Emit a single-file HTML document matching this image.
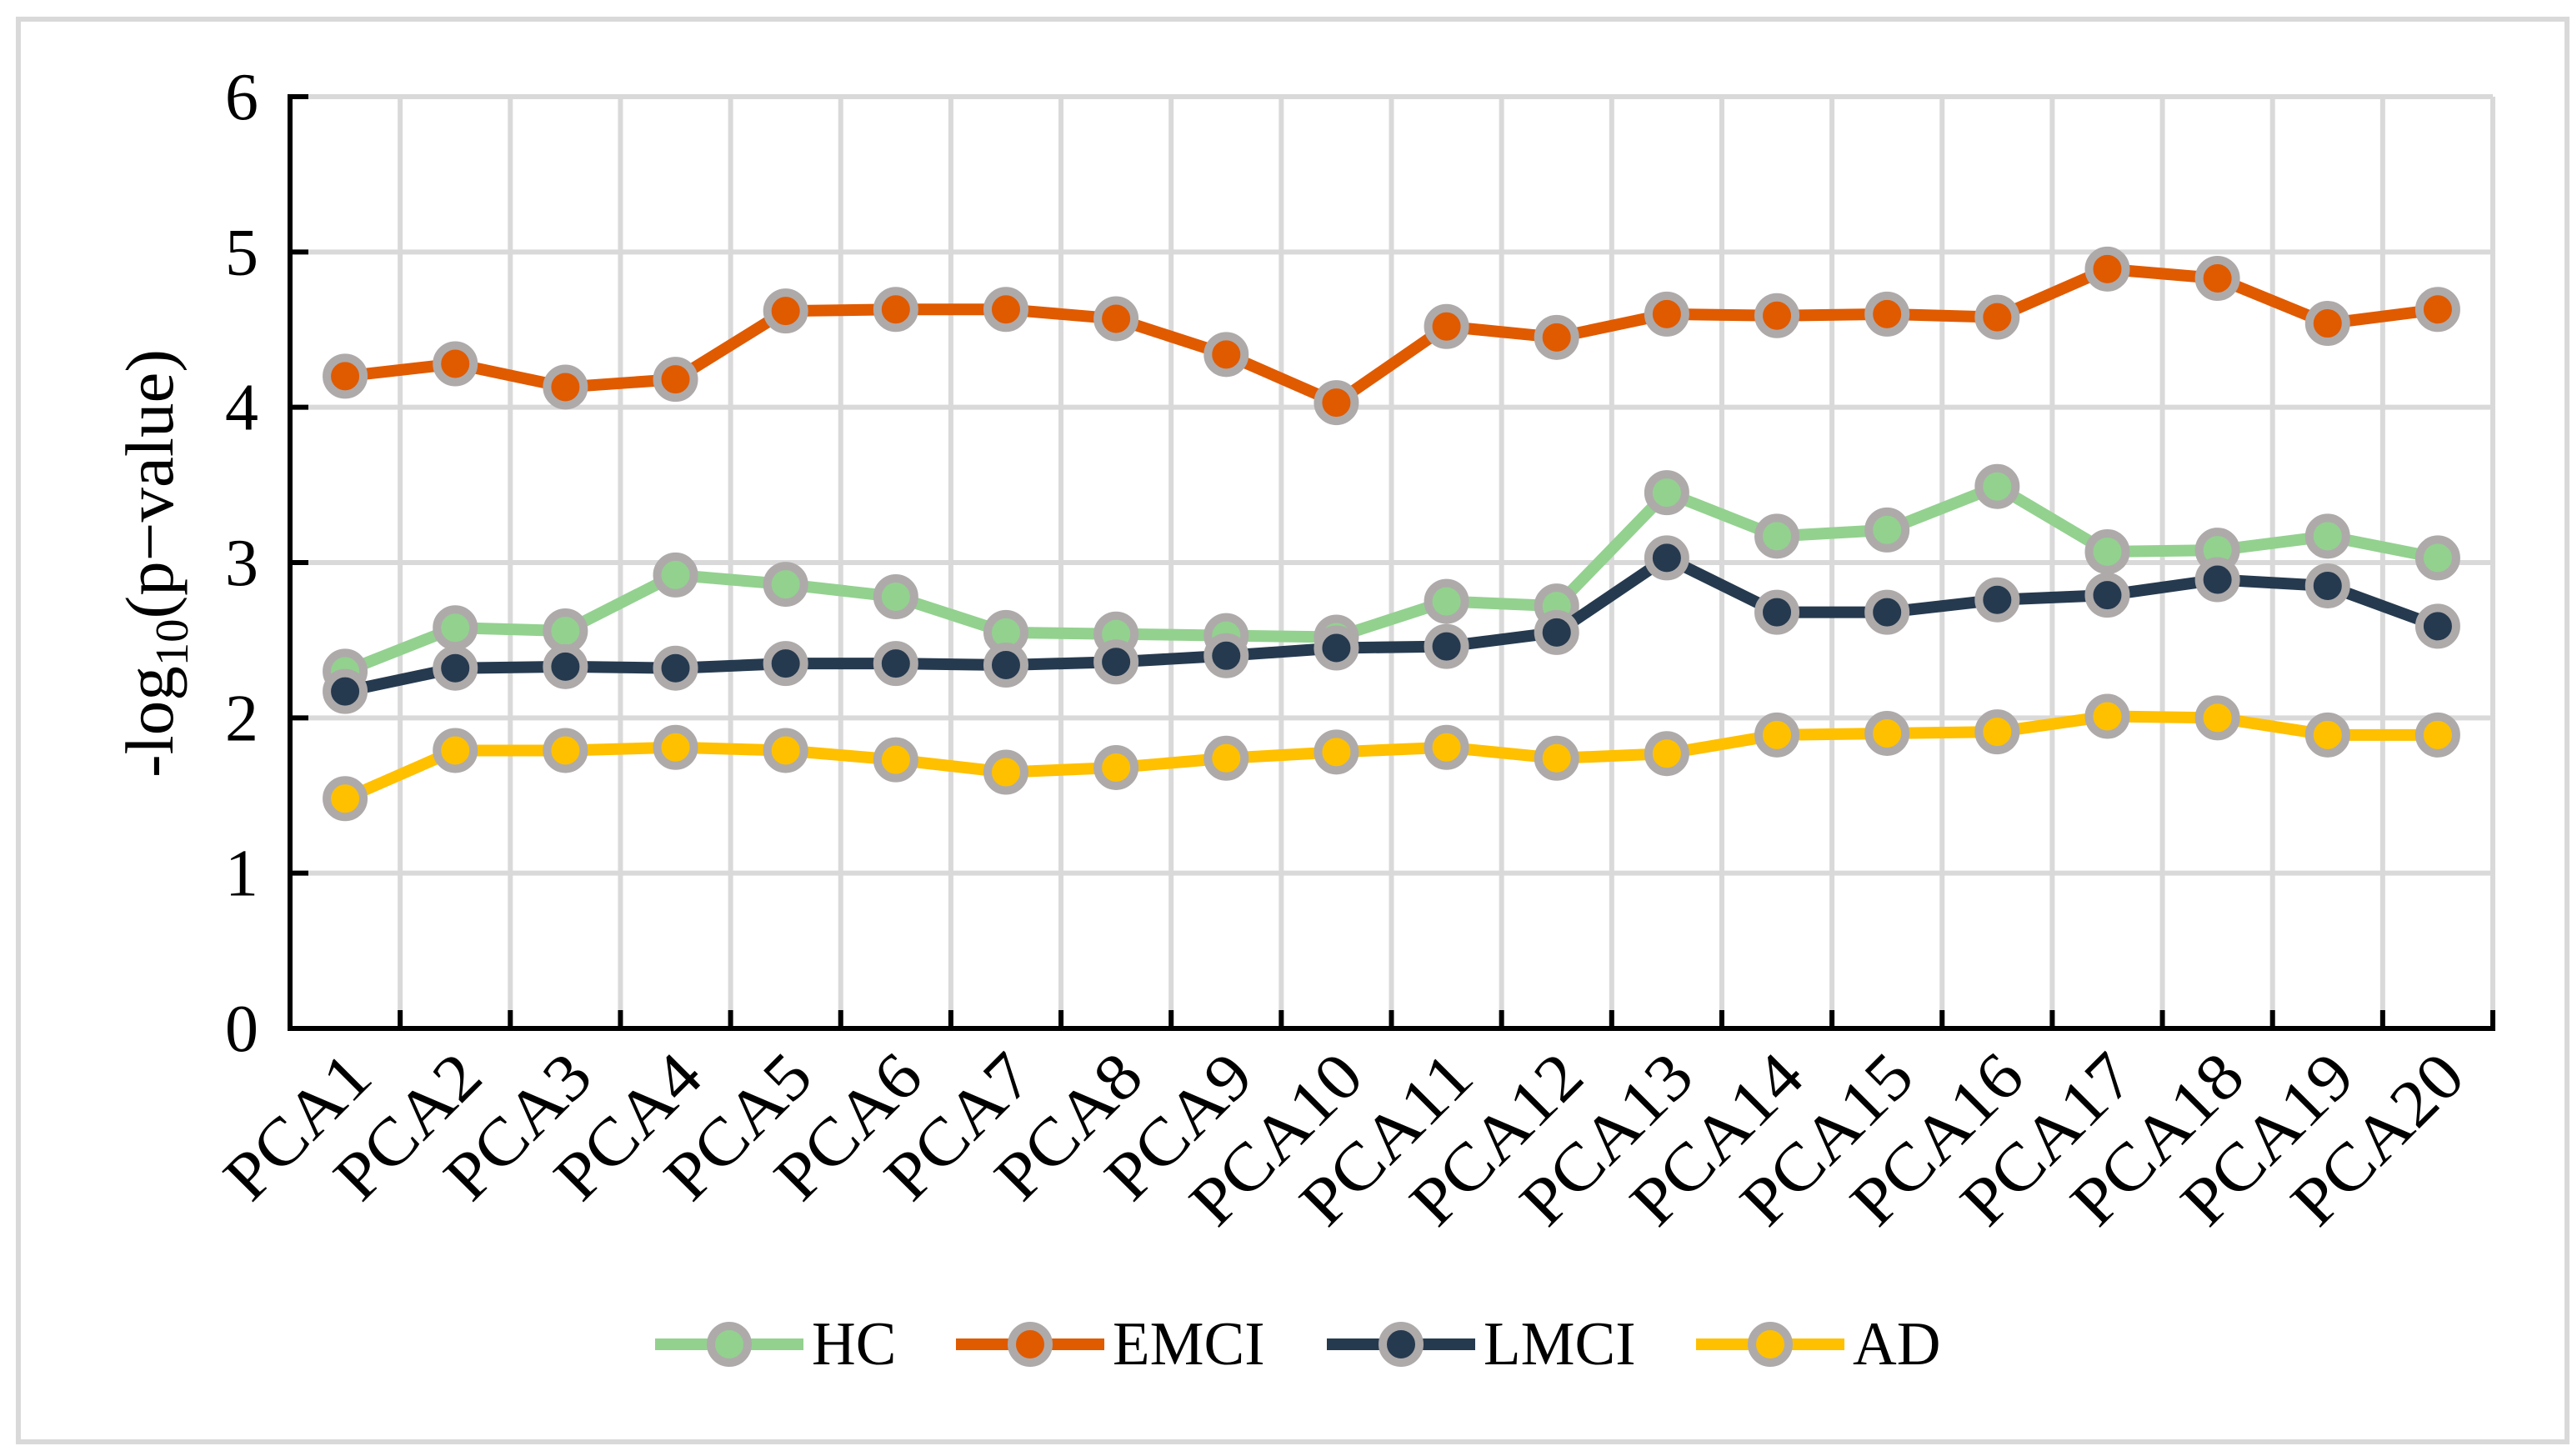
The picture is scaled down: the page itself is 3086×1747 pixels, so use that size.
<!DOCTYPE html>
<html><head><meta charset="utf-8"><style>html,body{margin:0;padding:0;background:#fff}svg{display:block}text{font-family:"Liberation Serif","Times New Roman",serif;fill:#000}</style></head>
<body>
<svg id="chart" width="3086" height="1747" xmlns="http://www.w3.org/2000/svg">
<rect x="22" y="23" width="3058" height="1707" fill="#fff" stroke="#d9d9d9" stroke-width="6"/>
<g id="grid"></g><g id="axes"></g><g id="series"></g><g id="legend"></g>
</svg>
<script>
const categories = ["PCA1","PCA2","PCA3","PCA4","PCA5","PCA6","PCA7","PCA8","PCA9","PCA10","PCA11","PCA12","PCA13","PCA14","PCA15","PCA16","PCA17","PCA18","PCA19","PCA20"];
const yTicks = [0,1,2,3,4,5,6];
const seriesNames = ["HC","EMCI","LMCI","AD"];
const hcValues = [2.3,2.58,2.56,2.92,2.86,2.78,2.55,2.54,2.53,2.52,2.75,2.72,3.45,3.17,3.21,3.49,3.07,3.08,3.17,3.03];
const emciValues = [4.2,4.28,4.13,4.18,4.62,4.63,4.63,4.57,4.34,4.03,4.52,4.45,4.6,4.59,4.6,4.58,4.89,4.83,4.54,4.63];
const lmciValues = [2.17,2.32,2.33,2.32,2.35,2.35,2.34,2.36,2.4,2.45,2.46,2.55,3.03,2.68,2.68,2.76,2.79,2.89,2.85,2.59];
const adValues = [1.48,1.79,1.79,1.81,1.79,1.73,1.65,1.68,1.74,1.78,1.81,1.74,1.77,1.89,1.9,1.91,2.01,2.0,1.89,1.89];

const NS="http://www.w3.org/2000/svg";
const L=348,R=2991,T=116,B=1234;
const bw=(R-L)/categories.length;
function xPos(i){return L+bw*(i+0.5);}
function yPos(v){return B-(v/6)*(B-T);}
function mk(tag,attrs,parent){const e=document.createElementNS(NS,tag);for(const k in attrs)e.setAttribute(k,attrs[k]);parent.appendChild(e);return e;}
const W={P:.556,C:.667,A:.722,H:.722,E:.611,M:.889,I:.333,L:.611,D:.722};
function tw(s,em){let w=0;for(const ch of s)w+=(W[ch]!==undefined?W[ch]:.5);return w*em;}
const grid=document.getElementById('grid'),axes=document.getElementById('axes'),ser=document.getElementById('series'),leg=document.getElementById('legend');

yTicks.forEach(t=>{
  if(t>0){const g=mk('line',{x1:L,x2:R,y1:yPos(t),y2:yPos(t),stroke:'#d9d9d9','stroke-width':6},grid);
  
  }
  const tk=mk('line',{x1:L,x2:L+22,y1:yPos(t),y2:yPos(t),stroke:'#000','stroke-width':6},axes);
  
  
  const lb=mk('text',{x:L-38,y:yPos(t)+27,'text-anchor':'end','font-size':80,textLength:40,lengthAdjust:'spacingAndGlyphs'},axes);
  lb.textContent=t;
  
  
});
for(let i=1;i<=categories.length;i++){
  const x=L+bw*i;
  const g=mk('line',{x1:x,x2:x,y1:T,y2:B,stroke:'#d9d9d9','stroke-width':6},grid);
  
  
  const tk=mk('line',{x1:x,x2:x,y1:B-22,y2:B,stroke:'#000','stroke-width':6},axes);
  
  
}
const ya=mk('line',{x1:L,x2:L,y1:T-3,y2:B+3,stroke:'#000','stroke-width':6},axes);


const xa=mk('line',{x1:L-3,x2:R+3,y1:B,y2:B,stroke:'#000','stroke-width':6},axes);


categories.forEach((c,i)=>{
  const t=mk('text',{'text-anchor':'end','font-size':80,textLength:tw(c,86),lengthAdjust:'spacingAndGlyphs',transform:`translate(${xPos(i)+36},${B+62}) rotate(-45)`},axes);
  t.textContent=c;
  
  
});
const yt=mk('text',{'text-anchor':'middle','font-size':82,textLength:514,lengthAdjust:'spacingAndGlyphs',transform:`translate(207,676) rotate(-90)`},axes);
yt.innerHTML='-log<tspan font-size="56" dy="18">10</tspan><tspan dy="-18">(p\u2212value)</tspan>';



const colors=['#93d18f','#e05a00','#263a4f','#ffc000'];
const allValues=[hcValues,emciValues,lmciValues,adValues];
allValues.forEach((vals,s)=>{
  const g=mk('g',{},ser);
  
  
  const p=mk('polyline',{points:vals.map((v,i)=>xPos(i)+','+yPos(v)).join(' '),fill:'none',stroke:colors[s],'stroke-width':14,'stroke-linejoin':'round'},g);
  
  
  vals.forEach((v,i)=>{
    const c=mk('circle',{cx:xPos(i),cy:yPos(v),r:22,fill:colors[s],stroke:'#aeaaaa','stroke-width':10},g);
    
    
  });
});
const legX=[786,1147,1592,2035];
seriesNames.forEach((n,s)=>{
  const g=mk('g',{},leg);
  
  
  const x=legX[s],y=1613;
  mk('line',{x1:x,x2:x+178,y1:y,y2:y,stroke:colors[s],'stroke-width':14},g);
  mk('circle',{cx:x+89,cy:y,r:22,fill:colors[s],stroke:'#aeaaaa','stroke-width':10},g);
  const t=mk('text',{x:x+188,y:1637,'font-size':74,textLength:tw(n,73),lengthAdjust:'spacingAndGlyphs'},g);
  t.textContent=n;
});
</script>
</body></html>
